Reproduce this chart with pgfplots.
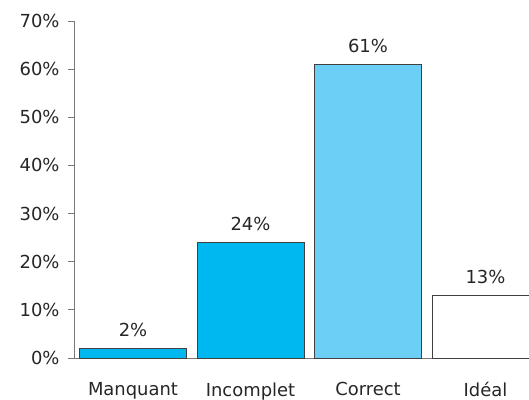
\documentclass[border=0pt]{standalone}
\usepackage{fontspec}
\setmainfont{DejaVu Sans}
\usepackage{pgfplots}
\pgfplotsset{compat=1.18}
\usetikzlibrary{calc}
\definecolor{bblue}{RGB}{0,184,240}
\definecolor{lblue}{RGB}{108,207,245}
\definecolor{spine}{RGB}{120,120,120}
\begin{document}
\begin{tikzpicture}
\begin{axis}[
  name=ax,
  scale only axis,
  width=455bp, height=337bp,
  xmin=-0.502, xmax=3.37,
  ymin=0, ymax=70,
  axis x line=bottom, axis y line=left,
  axis line style={spine, line width=1pt, -},
  x axis line style={-},
  y axis line style={-},
  ytick={0,10,...,70},
  yticklabel={\pgfmathprintnumber{\tick}\%},
  xtick={0,1,2,3},
  xticklabels={Manquant,Incomplet,Correct,Idéal},
  x tick style={draw=none},
  y tick style={spine, line width=1pt},
  tick align=outside,
  major tick length=6bp,
  tick label style={font=\fontsize{18}{21}\selectfont, text=black!85},
  xticklabel style={yshift=-15bp},
  yticklabel style={xshift=-5bp},
  /pgf/number format/assume math mode=true,
  ybar, bar width=107bp, bar shift=0pt,
  nodes near coords={\pgfmathprintnumber{\pgfplotspointmeta}\%},
  nodes near coords style={font=\fontsize{18}{21}\selectfont, text=black!85, anchor=south, yshift=8bp},
  every axis plot/.append style={draw=black!75, line width=0.8pt},
]
\addplot[fill=bblue] coordinates {(0,2)};
\addplot[fill=bblue] coordinates {(1,24)};
\addplot[fill=lblue] coordinates {(2,61)};
\addplot[fill=white] coordinates {(3,13)};
\end{axis}
\pgfresetboundingbox
\path[use as bounding box] ($(ax.south west)+(-74bp,-42bp)$) rectangle ($(ax.north east)+(0,21bp)$);
\end{tikzpicture}
\end{document}
